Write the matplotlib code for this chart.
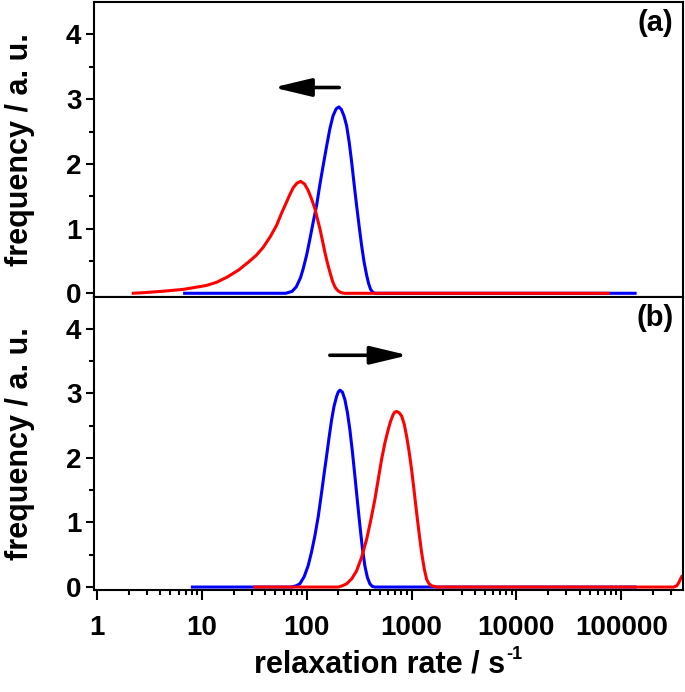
import matplotlib
matplotlib.use("Agg")
import matplotlib.pyplot as plt
import numpy as np

plt.rcParams["font.family"] = ["Liberation Sans", "DejaVu Sans"]
plt.rcParams["font.weight"] = "bold"

# panel (a): log10(rate) and frequency
a_blue_logx = [0.82, 1.80, 1.86, 1.90, 1.94, 1.966, 2.00, 2.030, 2.06, 2.094,
               2.125, 2.157, 2.19, 2.220, 2.25, 2.28, 2.306, 2.33, 2.355, 2.380,
               2.405, 2.428, 2.45, 2.475, 2.50, 2.523, 2.547, 2.571, 2.59, 2.609,
               2.63, 2.65, 5.147]
a_blue_y = [0.0, 0.0, 0.03, 0.10, 0.24, 0.38, 0.60, 0.84, 1.09, 1.36,
            1.68, 1.98, 2.28, 2.54, 2.74, 2.85, 2.88, 2.84, 2.74, 2.59,
            2.33, 2.03, 1.71, 1.36, 1.03, 0.74, 0.48, 0.28, 0.15, 0.06,
            0.015, 0.0, 0.0]

a_red_logx = [0.33, 0.45, 0.53, 0.65, 0.82, 0.93, 1.04, 1.14, 1.24, 1.35,
              1.457, 1.52, 1.584, 1.65, 1.712, 1.76, 1.807, 1.84, 1.870, 1.905,
              1.941, 1.978, 2.013, 2.045, 2.077, 2.10, 2.125, 2.15, 2.172, 2.195,
              2.220, 2.245, 2.268, 2.29, 2.315, 2.34, 2.36, 4.89]
a_red_y = [0.0, 0.01, 0.02, 0.035, 0.06, 0.09, 0.12, 0.17, 0.25, 0.36,
           0.50, 0.59, 0.71, 0.87, 1.05, 1.24, 1.41, 1.53, 1.63, 1.70,
           1.73, 1.69, 1.59, 1.46, 1.31, 1.16, 1.00, 0.81, 0.64, 0.48,
           0.33, 0.19, 0.10, 0.05, 0.02, 0.005, 0.0, 0.0]

# panel (b)
b_blue_logx = [0.894, 1.85, 1.90, 1.934, 1.975, 2.013, 2.045, 2.077, 2.11, 2.141,
               2.165, 2.189, 2.213, 2.237, 2.26, 2.284, 2.30, 2.316, 2.34, 2.364,
               2.388, 2.411, 2.435, 2.459, 2.483, 2.507, 2.53, 2.554, 2.578, 2.602,
               2.625, 2.65, 5.147]
b_blue_y = [0.0, 0.0, 0.02, 0.05, 0.16, 0.33, 0.54, 0.79, 1.10, 1.46,
            1.75, 2.03, 2.32, 2.59, 2.80, 2.95, 3.02, 3.05, 3.02, 2.90,
            2.70, 2.44, 2.10, 1.72, 1.33, 0.95, 0.61, 0.33, 0.15, 0.05,
            0.01, 0.0, 0.0]

b_red_logx = [1.49, 2.30, 2.34, 2.380, 2.43, 2.475, 2.523, 2.571, 2.61, 2.650,
              2.682, 2.714, 2.745, 2.777, 2.80, 2.824, 2.84, 2.857, 2.881, 2.905,
              2.93, 2.952, 2.976, 3.0, 3.024, 3.048, 3.072, 3.095, 3.12, 3.143,
              3.167, 3.191, 3.24, 5.50, 5.53, 5.55, 5.57, 5.58, 5.59]
b_red_y = [0.0, 0.0, 0.02, 0.05, 0.13, 0.25, 0.46, 0.74, 1.03, 1.36,
           1.67, 1.98, 2.23, 2.44, 2.57, 2.67, 2.71, 2.72, 2.70, 2.65,
           2.52, 2.34, 2.10, 1.82, 1.49, 1.15, 0.83, 0.54, 0.29, 0.12,
           0.05, 0.02, 0.0, 0.0, 0.02, 0.07, 0.14, 0.17, 0.17]

x_ticks = [1, 10, 100, 1000, 10000, 100000]
x_tick_labels = ["1", "10", "100", "1000", "10000", "100000"]

fig = plt.figure(figsize=(6.85, 6.92), dpi=100)
ax_a = fig.add_axes([0.137, 0.5715, 0.86, 0.4255])
ax_b = fig.add_axes([0.137, 0.147, 0.86, 0.4245], sharex=ax_a)

panels = [
    (ax_a, a_blue_logx, a_blue_y, a_red_logx, a_red_y, "(a)"),
    (ax_b, b_blue_logx, b_blue_y, b_red_logx, b_red_y, "(b)"),
]

for ax, bx, by, rx, ry, tag in panels:
    ax.plot(10 ** np.array(bx), by, color="#0000ff", lw=2.2, solid_capstyle="butt")
    ax.plot(10 ** np.array(rx), ry, color="#ff0000", lw=2.2, solid_capstyle="butt")
    ax.set_xscale("log")
    ax.set_xlim(0.93, 388000)
    ax.set_ylim(-0.05, 4.5)
    ax.set_yticks([0, 1, 2, 3, 4])
    ax.set_yticks([0.5, 1.5, 2.5, 3.5], minor=True)
    ax.set_ylabel("frequency / a. u.", fontsize=22, fontweight="bold")
    ax.yaxis.set_label_coords(-0.10, 0.5)
    for s in ax.spines.values():
        s.set_linewidth(1.5)
    ax.tick_params(axis="y", which="major", direction="out", length=6, width=1.5,
                   labelsize=20, pad=3)
    ax.tick_params(axis="y", which="minor", direction="out", length=3.5, width=1.5)
    ax.text(0.984, 0.975, tag, transform=ax.transAxes, ha="right", va="top",
            fontsize=21, fontweight="bold")

ax_a.tick_params(axis="x", which="both", bottom=False, labelbottom=False)
ax_b.set_xticks(x_ticks)
ax_b.set_xticklabels(x_tick_labels)
ax_b.tick_params(axis="x", which="major", direction="out", length=7, width=1.5,
                 labelsize=20, pad=11)
ax_b.tick_params(axis="x", which="minor", direction="out", length=3.5, width=1.5)
ax_b.set_xlabel("relaxation rate / s", fontsize=22, fontweight="bold")
ax_b.xaxis.set_label_coords(0.485, -0.20)

# superscript "-1" with a plain hyphen, placed right after the x label
fig.canvas.draw()
bb = ax_b.xaxis.label.get_window_extent()
fig.text(bb.x1 / fig.bbox.width + 0.002, bb.y1 / fig.bbox.height + 0.004, "-1",
         fontsize=13, fontweight="bold", ha="left", va="top")

arrow_style = dict(arrowstyle="-|>,head_length=2.3,head_width=0.55", color="black",
                   lw=2.6, shrinkA=0, shrinkB=0)
ax_a.annotate("", xy=(48, 3.18), xytext=(204, 3.18), arrowprops=arrow_style)
ax_b.annotate("", xy=(927, 3.59), xytext=(166, 3.59), arrowprops=arrow_style)

fig.savefig("out.png", dpi=100)
